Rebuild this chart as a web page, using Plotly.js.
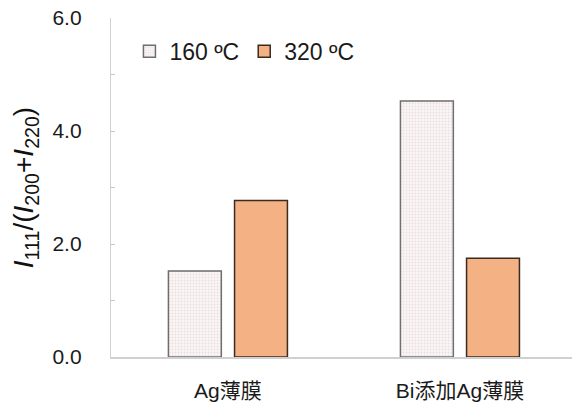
<!DOCTYPE html>
<html>
<head>
<meta charset="utf-8">
<script src="https://cdn.plot.ly/plotly-3.0.1.min.js"></script>
<style>
  html, body { margin: 0; padding: 0; background: #fff; }
  #chart { width: 572px; height: 405px; }
</style>
</head>
<body>
<div id="chart"></div>
<script>
// Film types and I111/(I200+I220) ratio per annealing temperature
const categories = ['Ag薄膜', 'Bi添加Ag薄膜'];
const ratio160 = [1.52, 4.53];
const ratio320 = [2.77, 1.75];
const seriesNames = ['160 ºC', '320 ºC'];

const font = "Arial, 'Liberation Sans', 'Noto Sans CJK JP', sans-serif";

const traces = [
  {
    type: 'bar',
    name: seriesNames[0],
    x: categories,
    y: ratio160,
    marker: {
      color: '#f8f4f4',
      line: { color: '#6e6e6e', width: 1.5 },
      pattern: { shape: '.', size: 3, solidity: 0.3, fgcolor: '#ecdede', bgcolor: '#faf7f7', fillmode: 'replace' }
    }
  },
  {
    type: 'bar',
    name: seriesNames[1],
    x: categories,
    y: ratio320,
    marker: {
      color: '#f4b183',
      line: { color: '#3b2a20', width: 1.5 }
    }
  }
];

const layout = {
  width: 572,
  height: 405,
  margin: { l: 111, r: 0, t: 18, b: 48 },
  paper_bgcolor: '#ffffff',
  plot_bgcolor: '#ffffff',
  font: { family: font, size: 21, color: '#1a1a1a' },
  barmode: 'group',
  bargap: 0.43,
  bargroupgap: 0.2,
  showlegend: true,
  legend: {
    orientation: 'h',
    x: 0.04, y: 0.965,
    xanchor: 'left', yanchor: 'top',
    font: { family: font, size: 23, color: '#1a1a1a' },
    bgcolor: 'rgba(0,0,0,0)',
    itemwidth: 30,
    tracegroupgap: 0
  },
  xaxis: {
    type: 'category',
    range: [-0.504, 1.483],
    showline: true,
    linecolor: '#d0d0d0',
    linewidth: 1.5,
    ticks: '',
    showgrid: false,
    ticklabelstandoff: 14,
    tickfont: { family: font, size: 21, color: '#1a1a1a' },
    zeroline: false
  },
  yaxis: {
    range: [0, 6],
    dtick: 2,
    tick0: 0,
    tickformat: '.1f',
    showline: true,
    linecolor: '#d0d0d0',
    linewidth: 1.2,
    ticks: 'inside',
    ticklen: 4,
    tickcolor: '#c8c8c8',
    minor: { dtick: 1, ticks: 'inside', ticklen: 4, tickcolor: '#c8c8c8' },
    showgrid: false,
    zeroline: false,
    ticklabelstandoff: 24,
    tickfont: { family: font, size: 21, color: '#1a1a1a' },
    title: {
      text: '<i>I</i><sub>111</sub>/(<i>I</i><sub>200</sub>+<i>I</i><sub>220</sub>)',
      font: { family: font, size: 28, color: '#111' },
      standoff: 10
    }
  }
};

Plotly.newPlot('chart', traces, layout, { displayModeBar: false, staticPlot: true });
</script>
</body>
</html>
